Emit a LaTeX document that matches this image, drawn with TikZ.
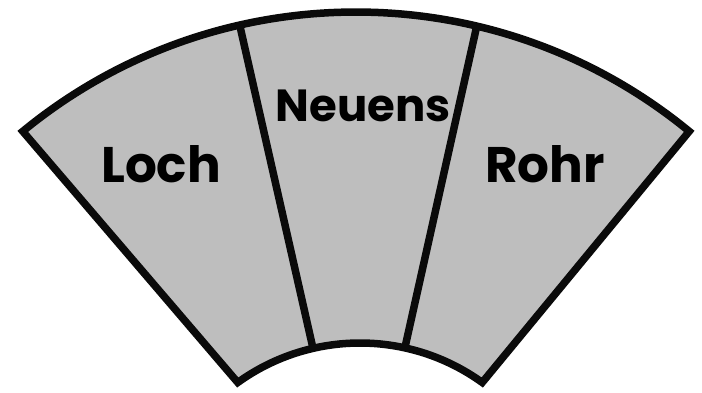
\documentclass[tikz,border=0pt]{standalone}
\usepackage{fontspec}
\usepackage{tikz}
\usetikzlibrary{calc}
\newfontfamily\lblfont{Poppins}
\definecolor{secfill}{HTML}{BEBEBE}
\definecolor{secline}{HTML}{0A0A0A}
\tikzset{
  sector/.style={draw=secline, fill=secfill, line width=7.5pt, line join=miter},
  divider/.style={draw=secline, line width=7.5pt},
  lbl/.style={anchor=base, font=\lblfont\bfseries\fontsize{50}{50}\selectfont, text=black, inner sep=0pt},
  lblsmall/.style={lbl, font=\lblfont\bfseries\fontsize{45}{45}\selectfont}
}

\begin{document}
\begin{tikzpicture}[x=1pt, y=1pt]
  \useasboundingbox (0,0) rectangle (702,393);
  % centres of the two arcs
  \coordinate (oc) at (356,-144);
  \coordinate (ic) at (360,-159);
  % corners
  \coordinate (ol) at ($(oc)+(129.4:525)$);
  \coordinate (ir) at ($(ic)+(54.2:209)$);
  % ends of the dividers
  \coordinate (d1o) at ($(oc)+(102.8:525)$);
  \coordinate (d1i) at ($(ic)+(103.0:209)$);
  \coordinate (d2o) at ($(oc)+(76.7:525)$);
  \coordinate (d2i) at ($(ic)+(77.6:209)$);

  \draw[sector] (ol) arc[start angle=129.4, end angle=50.6, radius=525pt]
    -- (ir) arc[start angle=54.2, end angle=125.8, radius=209pt] -- cycle;
  \draw[divider] (d1o) -- (d1i);
  \draw[divider] (d2o) -- (d2i);

  \node[lbl] (loch) at (161,210) {Loch};
  \node[lblsmall] (neuens) at (363,271) {Neuens};
  \node[lbl] (rohr) at (545,210) {Rohr};
\end{tikzpicture}
\end{document}
